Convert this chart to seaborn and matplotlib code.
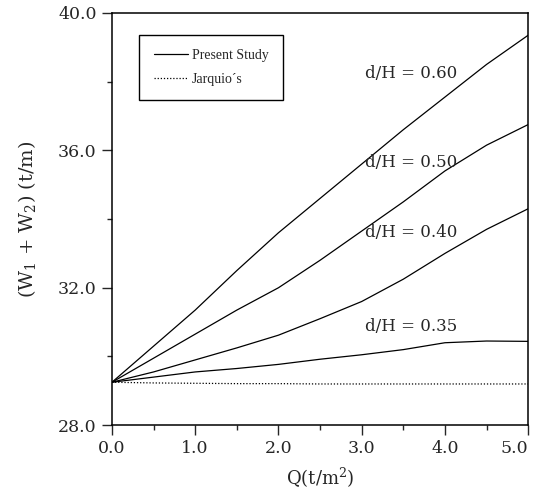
import seaborn as sns
import matplotlib.pyplot as plt
import pandas as pd
from matplotlib.lines import Line2D
from matplotlib.ticker import MultipleLocator

# Q values (t/m^2)
q = [0.0, 0.5, 1.0, 1.5, 2.0, 2.5, 3.0, 3.5, 4.0, 4.5, 5.0]

# present study, W1+W2 (t/m) for each d/H
w_060 = [29.25, 30.3, 31.35, 32.5, 33.6, 34.6, 35.6, 36.6, 37.55, 38.5, 39.35]
w_050 = [29.25, 29.95, 30.65, 31.35, 32.0, 32.8, 33.65, 34.5, 35.4, 36.15, 36.75]
w_040 = [29.25, 29.55, 29.9, 30.25, 30.62, 31.1, 31.6, 32.25, 33.0, 33.7, 34.3]
w_035 = [29.25, 29.4, 29.55, 29.65, 29.77, 29.92, 30.05, 30.2, 30.4, 30.45, 30.44]

# Jarquio's
w_jarquio = [29.25, 29.23, 29.22, 29.21, 29.21, 29.2, 29.2, 29.2, 29.2, 29.2, 29.2]

dh_names = ["0.60", "0.50", "0.40", "0.35"]
label_y = [38.25, 35.65, 33.6, 30.87]

present = pd.concat([
    pd.DataFrame({"Q": q, "W": w, "dH": name})
    for name, w in zip(dh_names, [w_060, w_050, w_040, w_035])
])
jarquio = pd.DataFrame({"Q": q, "W": w_jarquio})

sns.set_style("ticks")
plt.rcParams["font.family"] = ["DejaVu Serif"]
plt.rcParams["mathtext.fontset"] = "dejavuserif"

fig = plt.figure(figsize=(5.33, 4.95), dpi=100)
ax = fig.add_axes([0.21, 0.141, 0.781, 0.833])

sns.lineplot(data=present, x="Q", y="W", units="dH", estimator=None,
             color="black", linewidth=0.9, ax=ax)
sns.lineplot(data=jarquio, x="Q", y="W", color="black", linewidth=0.9,
             linestyle=(0, (1, 1.5)), ax=ax)

for name, y in zip(dh_names, label_y):
    ax.text(3.04, y, f"d/H = {name}", fontsize=12, va="center", ha="left")

ax.set_xlim(0, 5)
ax.set_ylim(28, 40)
ax.xaxis.set_major_locator(MultipleLocator(1.0))
ax.xaxis.set_minor_locator(MultipleLocator(0.5))
ax.yaxis.set_major_locator(MultipleLocator(4.0))
ax.yaxis.set_minor_locator(MultipleLocator(2.0))
ax.xaxis.set_major_formatter(lambda v, p: f"{v:.1f}")
ax.yaxis.set_major_formatter(lambda v, p: f"{v:.1f}")
ax.tick_params(which="major", direction="out", length=7, width=1, labelsize=12.5, pad=4)
ax.tick_params(which="minor", direction="out", length=3.5, width=1)
for s in ax.spines.values():
    s.set_visible(True)
    s.set_color("black")
    s.set_linewidth(1.1)

ax.set_xlabel("Q(t/m$^2$)", fontsize=13, labelpad=6)
ax.set_ylabel("(W$_1$ + W$_2$) (t/m)", fontsize=14, labelpad=14)

# the last x label sits flush against the right edge
fig.canvas.draw()
for tick in ax.xaxis.get_major_ticks():
    if abs(tick.get_loc() - 5.0) < 1e-6:
        tick.label1.set_horizontalalignment("right")

handles = [Line2D([], [], color="black", lw=0.9),
           Line2D([], [], color="black", lw=0.9, linestyle=(0, (1, 1.5)))]
leg = ax.legend(handles, ["Present Study", "Jarquio\u00b4s"], loc="upper left",
                bbox_to_anchor=(0.065, 0.947), borderaxespad=0, fancybox=False,
                edgecolor="black", framealpha=1, handlelength=2.5,
                handletextpad=0.25, prop={"family": "Liberation Serif", "size": 10},
                borderpad=1.05, labelspacing=0.75)
leg.get_frame().set_linewidth(1.0)

fig.savefig("out.png", dpi=100)
